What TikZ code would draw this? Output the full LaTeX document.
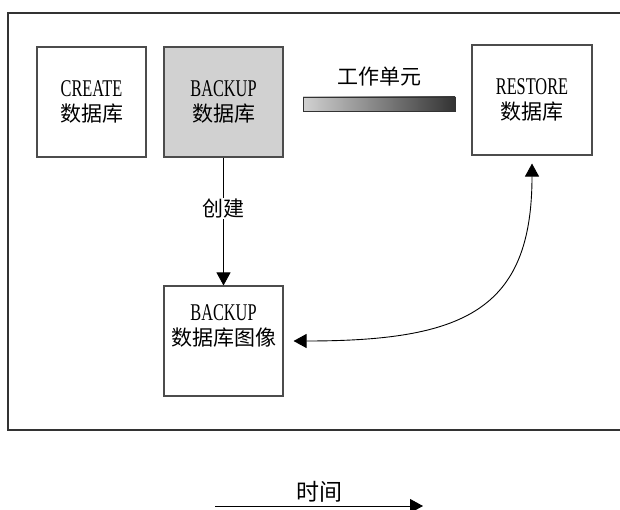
\documentclass[tikz,border=0pt]{standalone}
\usepackage{fontspec}
\setmainfont{Liberation Serif}[FakeStretch=0.68]
\newfontfamily\cjk{Noto Sans CJK SC}
\usepackage{tikz}
\usetikzlibrary{arrows.meta,positioning}

\begin{document}
\begin{tikzpicture}[x=1pt,y=-1pt,
		dbbox/.style={draw=black!70,line width=1.1pt,minimum height=110pt,align=center,font=\fontsize{24}{25}\selectfont,inner sep=0pt},
		tip/.style={-{Triangle[length=13pt,width=14pt]},line width=.9pt},
		twotip/.style={{Triangle[length=13pt,width=14pt]}-{Triangle[length=13pt,width=14pt]},line width=.9pt},
		cjklabel/.style={font=\cjk\fontsize{21}{24}\selectfont,inner sep=1pt}]
			\useasboundingbox (0,0) rectangle (620,510);
			\draw[black!80,line width=1.4pt] (8,13) rectangle (660,430);
			\node[dbbox,minimum width=109pt] (create) at (91.5,102) {CREATE\\\cjk\fontsize{21}{24}\selectfont 数据库};
			\node[dbbox,minimum width=119pt,fill=black!18] (backup) at (223.5,102) {BACKUP\\\cjk\fontsize{21}{24}\selectfont 数据库};
			\node[dbbox,minimum width=120pt] (restore) at (532,100) {RESTORE\\\cjk\fontsize{21}{24}\selectfont 数据库};
			\node[dbbox,minimum width=119pt] (image) at (223.5,341) {BACKUP\\\cjk\fontsize{21}{24}\selectfont 数据库图像\\[6pt]~};
			\node[draw=black!80,line width=.9pt,minimum width=152pt,minimum height=14pt,inner sep=0pt,left color=black!18,right color=black!80] (unit) at (379,104) {};
			\node[cjklabel] (unitlabel) at (379,77) {工作单元};
			\draw[tip] (backup) -- node[cjklabel,fill=white,pos=.4] (createlabel) {创建} (image);
			\draw[twotip,shorten <=8pt,shorten >=10pt] (restore.south) .. controls +(0,155) and +(180,0) .. (image.east);
			\coordinate (tstart) at (215,506);
			\coordinate (tend) at (423,506);
			\draw[tip] (tstart) -- node[cjklabel,above=2pt,font=\cjk\fontsize{23}{26}\selectfont] (timelabel) {时间} (tend);
		\end{tikzpicture}
\end{document}
